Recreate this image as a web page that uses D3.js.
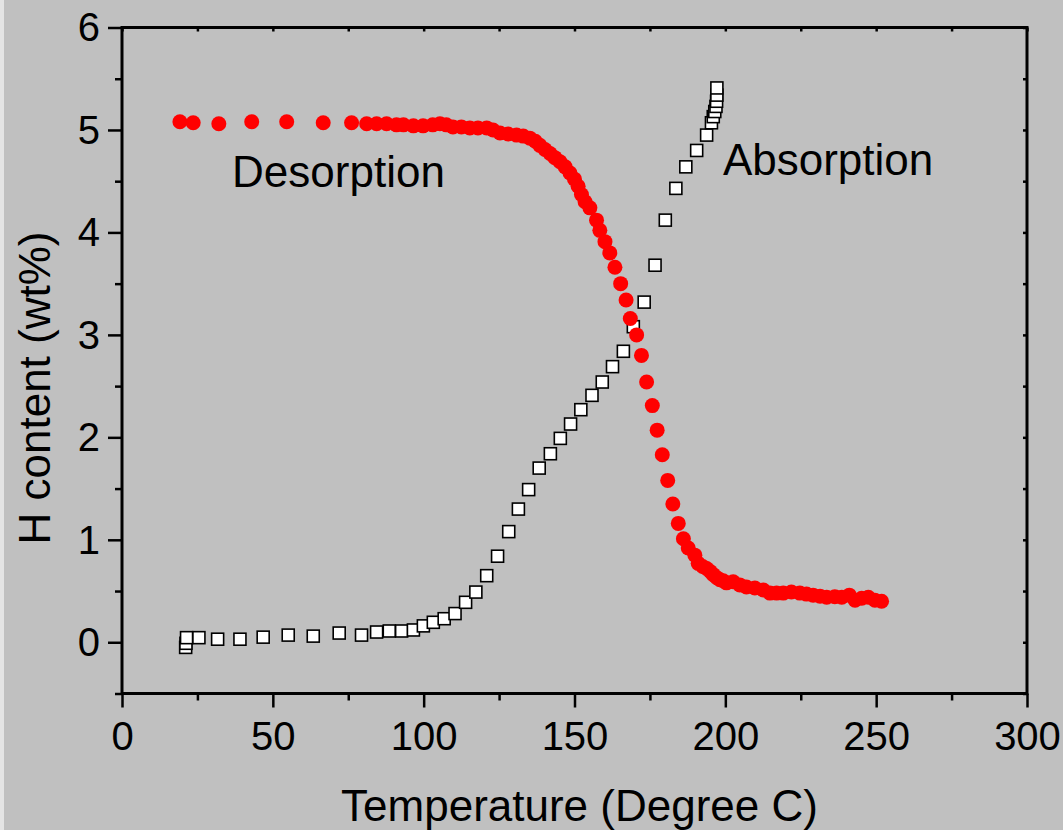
<!DOCTYPE html>
<html>
<head>
<meta charset="utf-8">
<script src="https://cdn.jsdelivr.net/npm/d3@7"></script>
<style>
  html, body { margin: 0; padding: 0; background: #c0c0c0; }
  svg { display: block; font-family: "Liberation Sans", Arial, sans-serif; }
</style>
</head>
<body>
<svg id="chart" width="1063" height="830"></svg>
<script>
/* data */
var desorbT = [19.2, 23.6, 32.1, 43.0, 54.6, 66.7, 76.1, 81.1, 84.4, 87.7, 91.0, 93.3, 96.6, 99.8, 103.0, 105.4, 107.5, 109.7, 112.5, 115.3,
  118.0, 120.9, 123.0, 125.3, 128.0, 130.8, 133.0, 135.2, 137.0, 138.5, 140.2, 141.9, 143.5, 145.2, 146.9, 148.5, 150.0, 151.2, 152.3, 153.5,
  155.1, 157.3, 158.4, 160.1, 161.7, 163.4, 165.3, 167.1, 168.5, 170.6, 172.2, 173.9, 175.8, 177.4, 179.1, 180.9, 182.6, 184.4, 186.1, 187.7,
  189.9, 191.0, 192.5, 193.8, 195.0, 196.0, 197.2, 198.2, 199.3, 200.4, 202.6, 204.8, 207.0, 209.8, 212.6, 214.8, 217.0, 219.2, 221.9, 224.7,
  226.9, 229.1, 231.4, 233.6, 236.3, 238.6, 241.1, 243.0, 245.2, 247.4, 249.6, 251.8];
var desorbH = [5.08, 5.07, 5.06, 5.08, 5.08, 5.07, 5.07, 5.06, 5.06, 5.06, 5.05, 5.05, 5.04, 5.04, 5.05, 5.06, 5.05, 5.03, 5.03, 5.02,
  5.02, 5.02, 5.00, 4.97, 4.96, 4.95, 4.94, 4.92, 4.89, 4.85, 4.81, 4.77, 4.73, 4.69, 4.64, 4.58, 4.52, 4.45, 4.37, 4.30,
  4.24, 4.12, 4.02, 3.91, 3.80, 3.66, 3.50, 3.34, 3.16, 3.00, 2.80, 2.54, 2.31, 2.07, 1.83, 1.58, 1.35, 1.16, 1.01, 0.92,
  0.85, 0.77, 0.74, 0.72, 0.69, 0.66, 0.63, 0.61, 0.60, 0.58, 0.59, 0.56, 0.54, 0.53, 0.51, 0.48, 0.48, 0.48, 0.49, 0.48,
  0.47, 0.46, 0.45, 0.44, 0.445, 0.44, 0.46, 0.41, 0.43, 0.44, 0.41, 0.40];

var absorbT = [21.1, 21.2, 21.4, 25.5, 31.7, 39.1, 46.8, 55.1, 63.4, 72.0, 79.4, 84.4, 88.6, 92.7, 96.6, 99.9, 103.2, 106.8, 110.4, 113.9,
  117.3, 120.9, 124.5, 128.2, 131.4, 134.8, 138.3, 142.0, 145.3, 148.7, 152.1, 155.8, 159.2, 162.6, 166.2, 169.5, 173.1, 176.7, 180.1, 183.6,
  186.9, 190.5, 193.8, 195.4, 196.0, 196.5, 196.9, 197.1, 197.2, 197.2];
var absorbH = [-0.05, -0.01, 0.045, 0.045, 0.03, 0.03, 0.05, 0.07, 0.06, 0.09, 0.07, 0.10, 0.11, 0.11, 0.12, 0.16, 0.195, 0.23, 0.28, 0.39,
  0.49, 0.65, 0.84, 1.08, 1.30, 1.49, 1.70, 1.84, 1.99, 2.13, 2.27, 2.41, 2.54, 2.69, 2.84, 3.08, 3.32, 3.68, 4.12, 4.43,
  4.64, 4.80, 4.95, 5.07, 5.13, 5.18, 5.23, 5.28, 5.34, 5.41];

var xTicks = [0, 50, 100, 150, 200, 250, 300];
var xMinor = [25, 75, 125, 175, 225, 275];
var yTicks = [0, 1, 2, 3, 4, 5, 6];
var yMinor = [-0.5, 0.5, 1.5, 2.5, 3.5, 4.5, 5.5];

var svg = d3.select("#chart"),
    margin = {top: 27.5, right: 36, bottom: 136.5, left: 122},
    width = +svg.attr("width") - margin.left - margin.right,
    height = +svg.attr("height") - margin.top - margin.bottom;

/* lichte rand links */
svg.append("rect").attr("x", 0).attr("y", 0).attr("width", 4).attr("height", 830).attr("fill", "#e4e4e4");

var x = d3.scaleLinear().domain([0, 300]).range([0, width]),
    y = d3.scaleLinear().domain([-0.5, 6]).range([height, 0]);

var g = svg.append("g")
    .attr("transform", "translate(" + margin.left + "," + margin.top + ")");

function styleAxis(sel) {
  sel.select(".domain").remove();
  sel.selectAll(".tick line").attr("stroke", "#000").attr("stroke-width", 2.5);
  sel.selectAll(".tick text").attr("fill", "#000").style("font-size", "40px");
}

/* bottom */
g.append("g").attr("transform", "translate(0," + height + ")")
  .call(d3.axisBottom(x).tickValues(xTicks).tickSize(14).tickPadding(14).tickFormat(d3.format("d")))
  .call(styleAxis)
  .selectAll(".tick text").attr("dy", "0.71em");
g.append("g").attr("transform", "translate(0," + height + ")")
  .call(d3.axisBottom(x).tickValues(xMinor).tickSize(7).tickFormat(""))
  .call(styleAxis);

/* left */
g.append("g")
  .call(d3.axisLeft(y).tickValues(yTicks).tickSize(14).tickPadding(8).tickFormat(d3.format("d")))
  .call(styleAxis)
  .selectAll(".tick text").attr("dy", "0.33em");
g.append("g")
  .call(d3.axisLeft(y).tickValues(yMinor).tickSize(7).tickFormat(""))
  .call(styleAxis);

/* top and right: short inner ticks */
g.append("g")
  .call(d3.axisBottom(x).tickValues(xTicks.concat(xMinor)).tickSize(4).tickFormat(""))
  .call(styleAxis);
g.append("g").attr("transform", "translate(" + width + ",0)")
  .call(d3.axisLeft(y).tickValues(yTicks.concat(yMinor)).tickSize(4).tickFormat(""))
  .call(styleAxis);

/* frame */
g.append("rect")
  .attr("x", 0).attr("y", 0).attr("width", width).attr("height", height)
  .attr("fill", "none").attr("stroke", "#000").attr("stroke-width", 3);

/* absorption squares */
var sq = 12;
g.selectAll(".abs")
  .data(absorbT.map(function(t, i) { return {t: t, h: absorbH[i]}; }))
  .enter().append("rect")
    .attr("class", "abs")
    .attr("x", function(d) { return x(d.t) - sq / 2; })
    .attr("y", function(d) { return y(d.h) - sq / 2; })
    .attr("width", sq).attr("height", sq)
    .attr("fill", "#fff").attr("stroke", "#000").attr("stroke-width", 1.6);

/* desorption dots */
g.selectAll(".des")
  .data(desorbT.map(function(t, i) { return {t: t, h: desorbH[i]}; }))
  .enter().append("circle")
    .attr("class", "des")
    .attr("cx", function(d) { return x(d.t); })
    .attr("cy", function(d) { return y(d.h); })
    .attr("r", 7.5)
    .attr("fill", "#ff0000");

/* labels */
g.append("text").attr("x", x(36.5)).attr("y", y(4.44))
  .style("font-size", "44px").attr("fill", "#000").text("Desorption");
g.append("text").attr("x", x(199.2)).attr("y", y(4.56))
  .style("font-size", "44px").attr("fill", "#000").text("Absorption");

svg.append("text")
  .attr("x", margin.left + width / 2 + 5).attr("y", 821)
  .attr("text-anchor", "middle").style("font-size", "44px").attr("fill", "#000")
  .text("Temperature (Degree C)");

svg.append("text")
  .attr("transform", "translate(50,388) rotate(-90)")
  .attr("text-anchor", "middle").style("font-size", "44px").attr("fill", "#000")
  .text("H content (wt%)");
</script>
</body>
</html>
